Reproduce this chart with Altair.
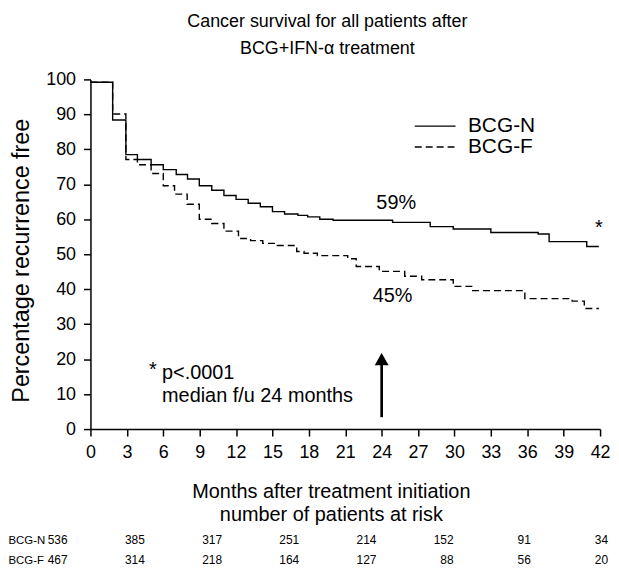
import altair as alt
import pandas as pd

FONT = "Liberation Sans"

# Kaplan-Meier step points (month, percent recurrence free)
n_months = [0, 1.83, 2.92, 3.87, 5.0, 6.0, 7.07, 8.0, 8.97, 10.0, 11.0, 12.0, 13.0, 14.0,
            15.0, 16.0, 17.1, 17.9, 18.9, 20.0, 24.9, 28.0, 29.9, 33.0, 36.9, 37.8, 40.9, 41.9]
n_values = [99.2, 88.4, 78.5, 77.1, 75.6, 74.2, 72.8, 71.5, 69.6, 68.3, 66.8, 65.7, 64.6, 63.6,
            62.2, 61.5, 61.1, 60.7, 60.0, 59.7, 59.1, 57.9, 57.2, 56.2, 55.8, 53.6, 52.2, 52.2]
f_months = [0, 1.83, 2.92, 3.87, 5.0, 6.0, 6.93, 7.97, 8.97, 10.0, 11.0, 12.2, 13.2, 14.2,
            15.4, 17.0, 17.6, 18.7, 21.2, 21.9, 23.8, 25.9, 27.3, 29.9, 31.5, 35.8, 39.7, 40.7, 41.9]
f_values = [99.2, 90.1, 77.1, 75.6, 73.1, 69.6, 67.2, 64.3, 60.0, 58.8, 56.6, 54.5, 53.9, 53.1,
            52.5, 50.8, 50.3, 49.6, 48.7, 46.5, 45.1, 43.7, 42.7, 40.8, 39.6, 37.3, 36.6, 34.5, 34.5]

groups = ["BCG-N", "BCG-F"]

# numbers at risk
risk_cols = [0, 1, 2, 3, 4, 5, 6, 7]
risk_n = [536, 385, 317, 251, 214, 152, 91, 34]
risk_f = [467, 314, 218, 164, 127, 88, 56, 20]

x_ticks = list(range(0, 43, 3))
y_ticks = list(range(0, 101, 10))

# annotations
pct_text = ["59%", "45%"]
pct_month = [25.2, 24.9]
pct_value = [64.5, 38.1]

star_month = [41.9, 5.15]
star_value = [55.7, 15.3]

note_text = ["p<.0001\nmedian f/u 24 months"]
note_month = [5.9]
note_value = [14.4]

arrow_month = [24]
arrow_from = [3.4]
arrow_to = [18.5]
arrow_head = [20.0]

curves = pd.DataFrame({
    "month": n_months + f_months,
    "value": n_values + f_values,
    "group": ["BCG-N"] * len(n_months) + ["BCG-F"] * len(f_months),
})

x_scale = alt.Scale(domain=[0, 42], nice=False, zero=False)
y_scale = alt.Scale(domain=[0, 100], nice=False)

x_axis = alt.Axis(
    values=x_ticks, tickCount=len(x_ticks), format="d", grid=False,
    labelFlush=False, labelOverlap=False,
    domainColor="black", domainWidth=1.5, tickColor="black", tickWidth=1.5, tickSize=7,
    labelFontSize=18, labelFont=FONT, labelColor="black", labelPadding=8,
    title=["Months after treatment initiation", "number of patients at risk"],
    titleFontSize=20, titleFont=FONT, titleFontWeight="normal", titleColor="black",
    titleX=242, titleY=69, titleAlign="center", titleBaseline="alphabetic", titleLineHeight=23,
)
y_axis = alt.Axis(
    values=y_ticks, tickCount=len(y_ticks), grid=False, labelOverlap=False,
    domainColor="black", domainWidth=1.5, tickColor="black", tickWidth=1.5, tickSize=7,
    labelFontSize=18, labelFont=FONT, labelColor="black", labelPadding=8,
    title="Percentage recurrence free",
    titleFontSize=23.5, titleFont=FONT, titleFontWeight="normal", titleColor="black",
    titleX=-69, titleY=182, titleAlign="center", titleBaseline="middle",
)

lines = alt.Chart(curves).mark_line(
    interpolate="step-after", color="black", strokeWidth=1.4
).encode(
    x=alt.X("month:Q", scale=x_scale, axis=x_axis),
    y=alt.Y("value:Q", scale=y_scale, axis=y_axis),
    strokeDash=alt.StrokeDash(
        "group:N",
        scale=alt.Scale(domain=groups, range=[[1, 0], [7, 4]]),
        legend=alt.Legend(
            title=None, orient="none", legendX=336, legendY=36,
            symbolType="M-2,0H2", symbolSize=420, symbolStrokeWidth=1.4,
            symbolStrokeColor="black", labelFontSize=21, labelFont=FONT,
            labelColor="black", labelOffset=22, rowPadding=0, padding=0,
        ),
    ),
)

pct = alt.Chart(pd.DataFrame({"t": pct_text, "month": pct_month, "value": pct_value})).mark_text(
    fontSize=20, font=FONT, color="black", baseline="middle", align="center"
).encode(x="month:Q", y="value:Q", text="t:N")

stars = alt.Chart(pd.DataFrame({"month": star_month, "value": star_value, "t": ["*", "*"]})).mark_text(
    fontSize=20, font=FONT, color="black", baseline="alphabetic", align="center"
).encode(x="month:Q", y="value:Q", text="t:N")

note = alt.Chart(pd.DataFrame({"t": note_text, "month": note_month, "value": note_value})).mark_text(
    fontSize=20, font=FONT, color="black", baseline="alphabetic", align="left",
    lineBreak="\n", lineHeight=23
).encode(x="month:Q", y="value:Q", text="t:N")

arrow = alt.Chart(pd.DataFrame({"month": arrow_month, "value": arrow_from, "value2": arrow_to})).mark_rule(
    color="black", strokeWidth=2.7
).encode(x="month:Q", y="value:Q", y2="value2:Q")

head = alt.Chart(pd.DataFrame({"month": arrow_month, "value": arrow_head})).mark_point(
    shape="triangle-up", size=196, filled=True, color="black", opacity=1
).encode(x="month:Q", y="value:Q")

top = alt.layer(lines, pct, stars, note, arrow, head).properties(
    width=513, height=352,
    title=alt.TitleParams(
        ["Cancer survival for all patients after", "BCG+IFN-\u03b1 treatment"],
        fontSize=18, font=FONT, fontWeight="normal", color="black",
        lineHeight=27, anchor="middle", dx=-18, offset=-5, baseline="bottom",
    ),
)

risk_df = pd.DataFrame({
    "col": risk_cols * 2,
    "group": ["BCG-N"] * len(risk_n) + ["BCG-F"] * len(risk_f),
    "n": risk_n + risk_f,
})

table = alt.Chart(risk_df).mark_text(
    align="right", baseline="middle", fontSize=12, font=FONT, color="black"
).encode(
    x=alt.X("col:Q", scale=alt.Scale(domain=[0, 7], range=[-23, 521]), axis=None),
    y=alt.Y(
        "group:N", sort=groups,
        scale=alt.Scale(paddingInner=0, paddingOuter=0),
        axis=alt.Axis(title=None, domain=False, ticks=False, tickSize=0, labelAlign="left",
                      labelPadding=83, labelFontSize=11.5, labelFont=FONT, labelColor="black"),
    ),
    text="n:Q",
).properties(width=513, height=40)

chart = alt.vconcat(top, table, spacing=6).properties(
    padding={"left": 0, "top": 3, "right": 0, "bottom": 0}
).configure_view(strokeWidth=0)

chart.save("out.html", embed_options={"renderer": "svg", "actions": False})
